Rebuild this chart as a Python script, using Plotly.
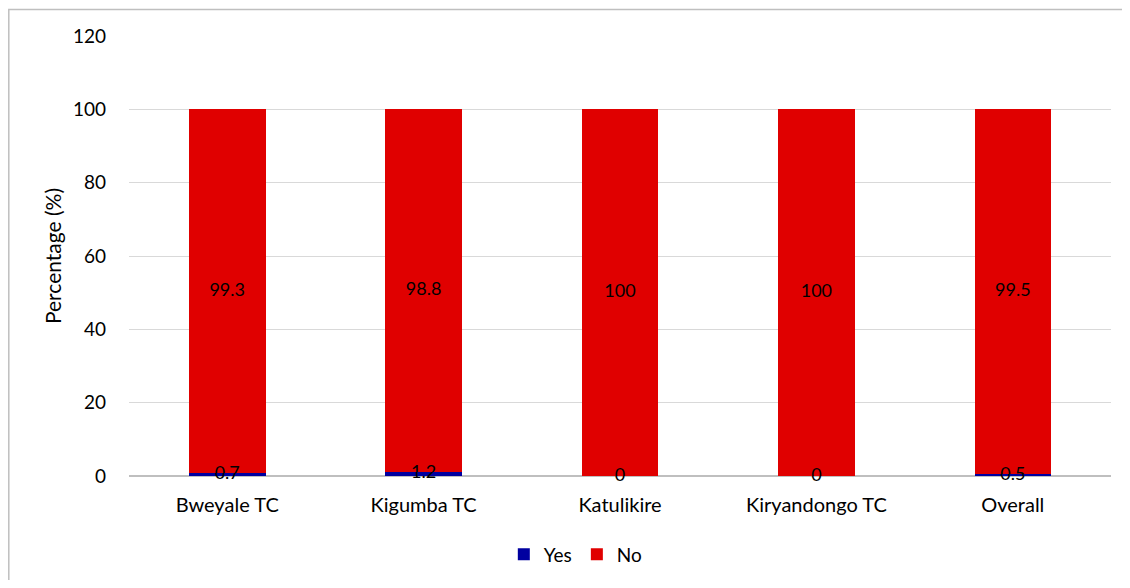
import plotly.graph_objects as go

categories = ["Bweyale TC", "Kigumba TC", "Katulikire", "Kiryandongo TC", "Overall"]
yes_values = [0.7, 1.2, 0, 0, 0.5]
no_values = [99.3, 98.8, 100, 100, 99.5]
y_ticks = [0, 20, 40, 60, 80, 100, 120]

FONT = "Lato, Carlito, Calibri, sans-serif"

fig = go.Figure()
fig.add_trace(go.Bar(name="Yes", x=categories, y=yes_values, marker_color="#0000A0",
                     marker_line_width=0, width=0.39))
fig.add_trace(go.Bar(name="No", x=categories, y=no_values, marker_color="#E00000",
                     marker_line_width=0, width=0.39))

# data labels
fig.add_trace(go.Scatter(x=categories, y=[v / 2 for v in yes_values],
                         text=[f"{v:g}" for v in yes_values], mode="text",
                         textposition="middle center",
                         textfont=dict(family=FONT, size=18, color="#000000"),
                         showlegend=False, hoverinfo="skip", cliponaxis=False))
fig.add_trace(go.Scatter(x=categories, y=[y + n / 2 for y, n in zip(yes_values, no_values)],
                         text=[f"{v:g}" for v in no_values], mode="text",
                         textposition="middle center",
                         textfont=dict(family=FONT, size=18, color="#000000"),
                         showlegend=False, hoverinfo="skip", cliponaxis=False))

# page body has an 8px margin, so the figure sits at (8, 8) in the window
W, H = 1114, 572
L, R, T, B = 121, 11, 28, 104
pw, ph = W - L - R, H - T - B

fig.add_shape(type="rect", xref="paper", yref="paper",
              x0=(0.8 - L) / pw, x1=(W + 20 - L) / pw,
              y0=(H - B - (H + 20)) / ph, y1=(H - B - 1.5) / ph,
              line=dict(color="#BFBFBF", width=1.5), fillcolor="rgba(0,0,0,0)", layer="below")

fig.update_layout(
    width=W, height=H,
    barmode="stack",
    margin=dict(l=L, r=R, t=T, b=B, autoexpand=False),
    paper_bgcolor="white", plot_bgcolor="white",
    font=dict(family=FONT, size=18, color="#000000"),
    legend=dict(orientation="h", x=0.455, xanchor="center", y=-0.178, yanchor="middle",
                font=dict(family=FONT, size=19, color="#000000"),
                traceorder="normal", itemwidth=30, tracegroupgap=0),
    xaxis=dict(showgrid=False, showline=False, ticks="", ticklabelstandoff=15, automargin=False,
               tickfont=dict(family=FONT, size=20, color="#000000")),
    yaxis=dict(range=[0, 120], tickvals=y_ticks, showgrid=True, gridcolor="#D9D9D9",
               gridwidth=1, zeroline=True, zerolinecolor="#BFBFBF", zerolinewidth=1.5,
               showline=False, ticks="", ticklabelstandoff=22, automargin=False,
               tickfont=dict(family=FONT, size=19, color="#000000"),
               title=dict(text="Percentage (%)", font=dict(family=FONT, size=21, color="#000000"),
                          standoff=5)),
    bargap=0.61,
)

fig.write_html("out.html")
